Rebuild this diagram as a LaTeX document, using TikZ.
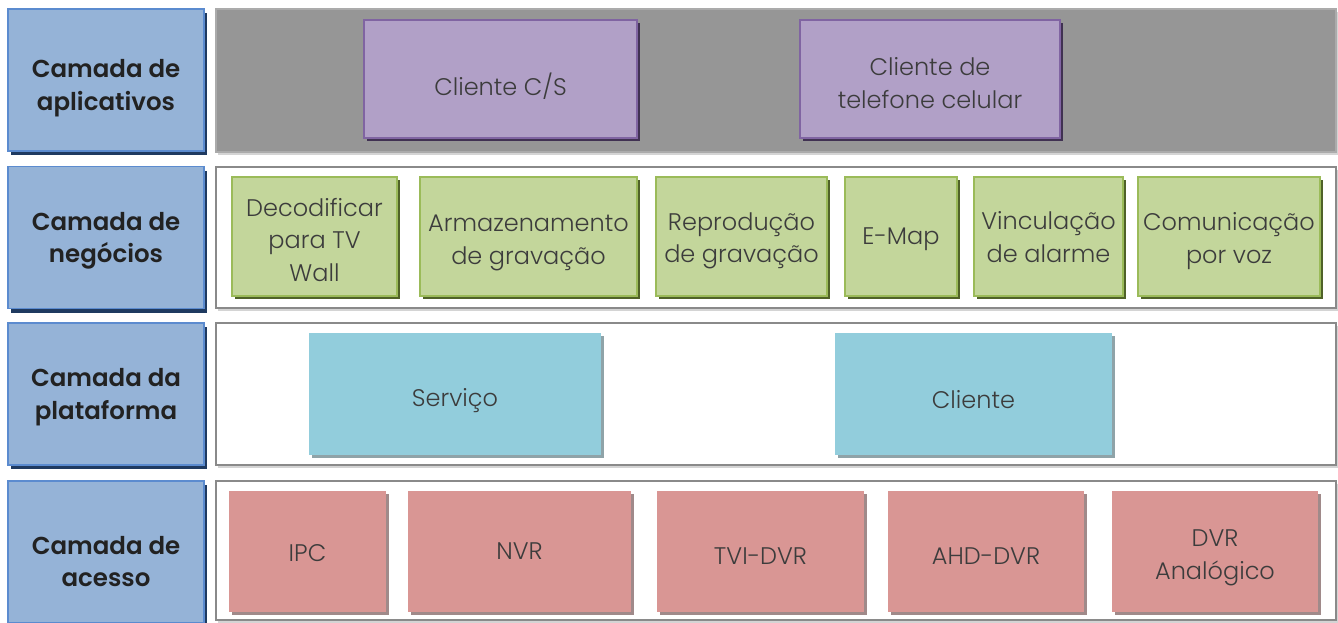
\documentclass[tikz,border=0pt]{standalone}
\usepackage{fontspec}
\setmainfont{Poppins}
\newfontfamily\lblfont{Poppins SemiBold}
\newfontfamily\boxfont{Poppins Light}
\usetikzlibrary{shadows}
\definecolor{lblfill}{HTML}{95B3D7}
\definecolor{lblborder}{HTML}{5B8BCF}
\definecolor{lblshadow}{HTML}{1F3A60}
\definecolor{panelgray}{HTML}{969696}
\definecolor{panelborder}{HTML}{8A8A8A}
\definecolor{pshadow}{HTML}{D4D4D4}
\definecolor{purfill}{HTML}{B1A0C7}
\definecolor{purborder}{HTML}{8064A2}
\definecolor{purshadow}{HTML}{403152}
\definecolor{grnfill}{HTML}{C3D69B}
\definecolor{grnborder}{HTML}{9BBB59}
\definecolor{grnshadow}{HTML}{4F6228}
\definecolor{cyafill}{HTML}{92CDDC}
\definecolor{cyashadow}{HTML}{8FA3A8}
\definecolor{pnkfill}{HTML}{D99694}
\definecolor{pnkshadow}{HTML}{A08A8A}
\definecolor{txtdark}{HTML}{222222}
\definecolor{txtbox}{HTML}{3C3C3C}
\tikzset{
  lbl/.style={draw=lblborder, line width=1.5pt, fill=lblfill, minimum width=196pt, minimum height=142pt, inner sep=0pt,
    drop shadow={shadow xshift=3pt, shadow yshift=-4pt, fill=lblshadow, opacity=1}},
  lbltext/.style={text=txtdark, align=center, inner sep=0pt, font=\lblfont\fontsize{24.5}{32.5}\selectfont},
  panel/.style={draw=panelborder, line width=1.6pt, fill=white, minimum width=1120pt, inner sep=0pt,
    drop shadow={shadow xshift=2pt, shadow yshift=-3pt, fill=pshadow, opacity=1}},
  graypanel/.style={panel, fill=panelgray, draw=panelgray!80!white},
  boxtext/.style={text=txtbox, align=center, font=\boxfont\fontsize{24}{32.5}\selectfont, inner sep=0pt},
  purbox/.style={draw=purborder, line width=1.5pt, fill=purfill, minimum height=118pt,
    drop shadow={shadow xshift=3pt, shadow yshift=-3pt, fill=purshadow, opacity=1}},
  grnbox/.style={draw=grnborder, line width=1.5pt, fill=grnfill, minimum height=119pt,
    drop shadow={shadow xshift=3pt, shadow yshift=-3pt, fill=grnshadow, opacity=1}},
  cyabox/.style={fill=cyafill, minimum height=122pt,
    drop shadow={shadow xshift=3pt, shadow yshift=-3pt, fill=cyashadow, opacity=1}},
  pnkbox/.style={fill=pnkfill, minimum height=121pt,
    drop shadow={shadow xshift=3pt, shadow yshift=-3pt, fill=pnkshadow, opacity=1}},
}
\begin{document}
\begin{tikzpicture}[x=1pt,y=-1pt]
\useasboundingbox (0,0) rectangle (1338,622);
\clip (0,0) rectangle (1338,622);
% left labels
\node[lbl] (l1) at (106,80) {};
\node[lbl] (l2) at (106,237.5) {};
\node[lbl] (l3) at (106,394) {};
\node[lbl] (l4) at (106,552) {};
\node[lbltext] (tl1) at (106,88) {Camada de\\aplicativos};
\node[lbltext] (tl2) at (106,241) {Camada de\\negócios};
\node[lbltext] (tl3) at (106,397) {Camada da\\plataforma};
\node[lbltext] (tl4) at (106,561.5) {Camada de\\acesso};
% panels
\node[graypanel, minimum height=143pt] (p1) at (776,80.5) {};
\node[panel, minimum height=141pt] (p2) at (776,237.5) {};
\node[panel, minimum height=142pt] (p3) at (776,394) {};
\node[panel, minimum height=139pt] (p4) at (776,550.5) {};
% application layer
\node[purbox, minimum width=273pt] (a1) at (500.5,79) {};
\node[purbox, minimum width=260pt] (a2) at (930,79) {};
\node[boxtext] (ta1) at (500.5,86.5) {Cliente C/S};
\node[boxtext] (ta2) at (930,83) {Cliente de\\telefone celular};
% business layer
\node[grnbox, minimum width=165pt] (b1) at (314.5,236.5) {};
\node[grnbox, minimum width=217pt] (b2) at (528.5,236.5) {};
\node[grnbox, minimum width=171pt] (b3) at (741.5,236.5) {};
\node[grnbox, minimum width=112pt] (b4) at (901,236.5) {};
\node[grnbox, minimum width=149pt] (b5) at (1048.5,236.5) {};
\node[grnbox, minimum width=182pt] (b6) at (1229,236.5) {};
\node[boxtext] (tb1) at (314.5,240) {Decodificar\\para TV\\Wall};
\node[boxtext] (tb2) at (528.5,243) {Armazenamento\\de gravação};
\node[boxtext] (tb3) at (741.5,241) {Reprodução\\de gravação};
\node[boxtext] (tb4) at (901,239.5) {E-Map};
\node[boxtext] (tb5) at (1048.5,237) {Vinculação\\de alarme};
\node[boxtext] (tb6) at (1229,241) {Comunicação\\por voz};
% platform layer
\node[cyabox, minimum width=292pt] (c1) at (455,394) {};
\node[cyabox, minimum width=277pt] (c2) at (973.5,394) {};
\node[boxtext] (tc1) at (455,400.5) {Serviço};
\node[boxtext] (tc2) at (973.5,400) {Cliente};
% access layer
\node[pnkbox, minimum width=157pt] (d1) at (307.5,551.5) {};
\node[pnkbox, minimum width=223pt] (d2) at (519.5,551.5) {};
\node[pnkbox, minimum width=207pt] (d3) at (760.5,551.5) {};
\node[pnkbox, minimum width=196pt] (d4) at (986,551.5) {};
\node[pnkbox, minimum width=206pt] (d5) at (1215,551.5) {};
\node[boxtext] (td1) at (307.5,553) {IPC};
\node[boxtext] (td2) at (519.5,551) {NVR};
\node[boxtext] (td3) at (760.5,556) {TVI-DVR};
\node[boxtext] (td4) at (986,556) {AHD-DVR};
\node[boxtext] (td5) at (1215,558) {DVR\\Analógico};
\end{tikzpicture}
\end{document}
